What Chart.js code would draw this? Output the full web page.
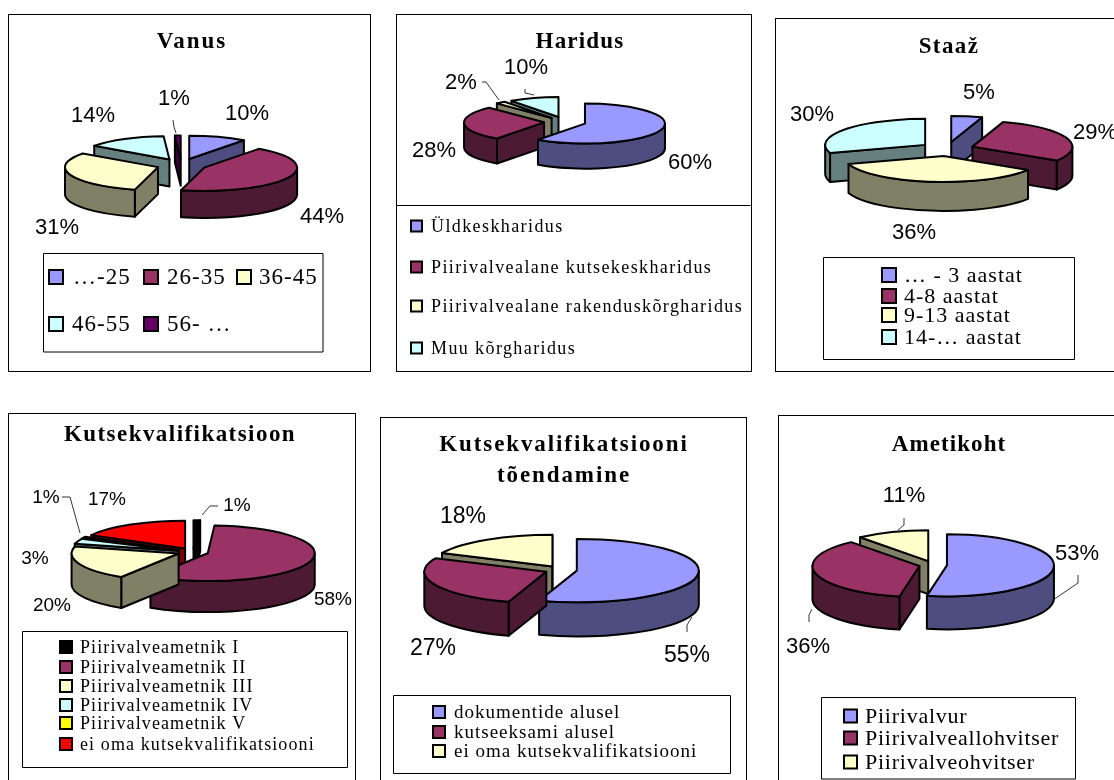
<!DOCTYPE html>
<html><head><meta charset="utf-8">
<style>
html,body{margin:0;padding:0;background:#fff;width:1114px;height:780px;overflow:hidden}
.box{position:absolute;box-sizing:border-box;border:1px solid #000;background:#fff}
canvas{position:absolute;left:-1px;top:-1px;display:block}
</style>
<script src="https://cdn.jsdelivr.net/npm/chart.js@4"></script>
</head><body>
<script>
// ---- data ----
const vanusTitle = 'Vanus';
const vanusCategories = ['…-25','26-35','36-45','46-55','56- …'];
const vanusValues = [10,44,31,14,1];
const haridusTitle = 'Haridus';
const haridusCategories = ['Üldkeskharidus','Piirivalvealane kutsekeskharidus','Piirivalvealane rakenduskõrgharidus','Muu kõrgharidus'];
const haridusValues = [60,28,2,10];
const staazTitle = 'Staaž';
const staazCategories = ['… - 3 aastat','4-8 aastat','9-13 aastat','14-… aastat'];
const staazValues = [5,29,36,30];
const kvalTitle = 'Kutsekvalifikatsioon';
const kvalCategories = ['Piirivalveametnik I','Piirivalveametnik II','Piirivalveametnik III','Piirivalveametnik IV','Piirivalveametnik V','ei oma kutsekvalifikatsiooni'];
const kvalValues = [1,58,20,3,1,17];
const toendTitle = ['Kutsekvalifikatsiooni','tõendamine'];
const toendCategories = ['dokumentide alusel','kutseeksami alusel','ei oma kutsekvalifikatsiooni'];
const toendValues = [55,27,18];
const ametTitle = 'Ametikoht';
const ametCategories = ['Piirivalvur','Piirivalveallohvitser','Piirivalveohvitser'];
const ametValues = [53,36,11];

const BLUE='#9999FF',PLUM='#993366',CREAM='#FFFFCC',AQUA='#CCFFFF',PURPLE='#660066',BLACK='#000000',YELLOW='#FFFF00',RED='#FF0000';
const SIDE={[BLUE]:'#4D4D80',[PLUM]:'#4D1A33',[CREAM]:'#808066',[AQUA]:'#668080',[PURPLE]:'#330033',[BLACK]:'#000000',[YELLOW]:'#808000',[RED]:'#800000'};

// ---- layout (page pixels) ----
const charts=[
 {title:vanusTitle,cats:vanusCategories,vals:vanusValues,colors:[BLUE,PLUM,CREAM,AQUA,PURPLE],
  box:[8,14,363,358],tc:192,ty:42,tfs:23,tls:2,tlh:25,
  pie:{cx:181.5,cy:165,r:93,k:.25,d:25,depth:27},
  lf:22,lpos:[[247,112],[322,215],[57,226],[93,114],[174,97]],
  leaders:[[[173,120],[174,127],[176,133]]],
  lbox:[43.5,253.5,279.5,98.5],lgf:23,lgs:1,sw:14,
  items:[[49,277,73],[144,277,167],[237,277,259],[49,324,72],[144,324,167]]},
 {title:haridusTitle,cats:haridusCategories,vals:haridusValues,colors:[BLUE,PLUM,CREAM,AQUA],
  box:[396,14,356,358],tc:580,ty:42,tfs:23,tls:1.2,tlh:25,
  pie:{cx:565,cy:122,r:80,k:.25,d:21,depth:25},
  lf:22,lpos:[[690,161],[434,149],[461,81],[526,66]],
  leaders:[[[482,82],[486,82],[499,100]],[[525,89],[525,93],[534,95]]],
  lbox:[396.5,205.5,354,0],lgf:18,lgs:1.4,sw:11,
  items:[[411,226,431],[411,267,431],[411,306,431],[411,348,431]]},
 {title:staazTitle,cats:staazCategories,vals:staazValues,colors:[BLUE,PLUM,CREAM,AQUA],
  box:[775,18,345,354],tc:949,ty:47,tfs:23,tls:1.4,tlh:25,
  pie:{cx:947,cy:149,r:100,k:.26,d:27,depth:29},
  lf:22,lpos:[[979,91],[1095,131],[914,231],[812,113]],leaders:[],
  lbox:[823.5,257.5,251,102],lgf:22,lgs:1,sw:14,
  items:[[882,275,904],[882,296,904],[882,315,904],[882,337,904]]},
 {title:kvalTitle,cats:kvalCategories,vals:kvalValues,colors:[BLACK,PLUM,CREAM,AQUA,YELLOW,RED],
  box:[8,413,348,375],tc:180,ty:435,tfs:23,tls:1.45,tlh:25,
  pie:{cx:193,cy:552,r:107,k:.26,d:15.5,depth:31},
  lf:19,lpos:[[237,504],[333,598],[52,604],[35,557],[46,496],[107,498]],
  leaders:[[[202,515],[210,506],[218,506]],[[62,497],[70,497],[80,533]]],
  lbox:[22.5,631.5,325,136],lgf:18,lgs:1.1,sw:12,
  items:[[60,647,80],[60,667,80],[60,686,80],[60,705,80],[60,723,80],[60,744,80]]},
 {title:toendTitle,cats:toendCategories,vals:toendValues,colors:[BLUE,PLUM,CREAM],
  box:[380,417,367,371],tc:564,ty:445,tfs:23,tls:1.9,tlh:31,
  pie:{cx:561,cy:570,r:122,k:.26,d:16,depth:34},
  lf:23,lpos:[[687,654],[433,647],[463,515]],
  leaders:[[[692,617],[687,625],[687,632]]],
  lbox:[393.5,695.5,337,78],lgf:19,lgs:1,sw:12,
  items:[[433,712,454],[433,732,454],[433,751,454]]},
 {title:ametTitle,cats:ametCategories,vals:ametValues,colors:[BLUE,PLUM,CREAM],
  box:[778,415,345,373],tc:949,ty:445,tfs:23,tls:1.1,tlh:25,
  pie:{cx:933,cy:565,r:107,k:.29,d:14,depth:33},
  lf:22,lpos:[[1077,552],[808,645],[904,494]],
  leaders:[[[904,518],[904,525],[898,530]],[[1078,575],[1078,583],[1053,600]],[[809,622],[809,615],[812,609]]],
  lbox:[821.5,697.5,254,81.5],lgf:22,lgs:.75,sw:13,
  items:[[844,716,865],[844,738,865],[844,762,865]]}
];

function wedgeGeom(arc,p){
  const h=(arc.startAngle+arc.endAngle)/2;
  return {px:p.cx+p.d*Math.cos(h),py:p.cy+p.k*p.d*Math.sin(h),h,a0:arc.startAngle,a1:arc.endAngle,R:arc.outerRadius};
}
const pie3d={
 id:'pie3d',
 afterLayout(chart,args,o){
  const p=o.pie,b=o.box,s=o.pie.r;
  chart.chartArea={left:p.cx-b[0]-s,right:p.cx-b[0]+s,top:p.cy-b[1]-s,bottom:p.cy-b[1]+s,width:2*s,height:2*s};
 },
 beforeDraw(chart,args,o){chart.ctx.letterSpacing=o.tls+'px';},
 beforeDatasetDraw(chart,args,o){
  const ctx=chart.ctx,p=o.pie,b=o.box;
  ctx.letterSpacing='0px';
  const arcs=chart.getDatasetMeta(args.index).data;
  const order=arcs.map((a,i)=>i).sort((i,j)=>{
    const f=a=>Math.sin((a.startAngle+a.endAngle)/2);return f(arcs[i])-f(arcs[j]);});
  ctx.save();
  ctx.translate(-b[0],-b[1]);
  ctx.lineJoin='round';
  ctx.lineWidth=2;
  ctx.strokeStyle='#000';
  order.forEach(i=>{
    const arc=arcs[i],g=wedgeGeom(arc,p),col=o.colors[i],dk=SIDE[col],D=p.depth,ry=p.k*g.R;
    const rim=a=>[g.px+g.R*Math.cos(a),g.py+ry*Math.sin(a)];
    ctx.fillStyle=dk;
    const face=a=>{const q=rim(a);ctx.beginPath();ctx.moveTo(g.px,g.py);ctx.lineTo(q[0],q[1]);ctx.lineTo(q[0],q[1]+D);ctx.lineTo(g.px,g.py+D);ctx.closePath();ctx.fill();ctx.stroke();};
    if(Math.cos(g.a0)<0) face(g.a0);
    if(Math.cos(g.a1)>0) face(g.a1);
    const w0=Math.max(g.a0,0),w1=Math.min(g.a1,Math.PI);
    if(w1>w0){
      ctx.beginPath();
      ctx.ellipse(g.px,g.py,g.R,ry,0,w0,w1);
      ctx.ellipse(g.px,g.py+D,g.R,ry,0,w1,w0,true);
      ctx.closePath();ctx.fill();ctx.stroke();
    }
    // top face: the library's own arc, tilted and pulled out of the pie
    ctx.save();
    ctx.translate(g.px,g.py);
    ctx.scale(1,p.k);
    ctx.translate(-(p.cx-b[0]),-(p.cy-b[1]));
    arc.draw(ctx);
    ctx.restore();
    ctx.beginPath();
    ctx.moveTo(g.px,g.py);
    ctx.ellipse(g.px,g.py,g.R,ry,0,g.a0,g.a1);
    ctx.closePath();ctx.stroke();
  });
  ctx.restore();
  return false;
 },
 afterDraw(chart,args,o){
  const ctx=chart.ctx,b=o.box,vals=chart.data.datasets[0].data,labels=chart.data.labels;
  ctx.save();
  ctx.translate(-b[0],-b[1]);
  // data labels and leader lines
  ctx.letterSpacing='0px';
  ctx.fillStyle='#000';ctx.strokeStyle='#000';
  ctx.font=o.lf+'px "Liberation Sans"';ctx.textAlign='center';ctx.textBaseline='middle';
  vals.forEach((v,i)=>ctx.fillText(v+'%',o.lpos[i][0],o.lpos[i][1]+1.5));
  ctx.lineWidth=.8;
  o.leaders.forEach(l=>{ctx.beginPath();l.forEach((q,i)=>i?ctx.lineTo(q[0],q[1]):ctx.moveTo(q[0],q[1]));ctx.stroke();});
  // legend frame
  const L=o.lbox;
  ctx.lineWidth=1;ctx.strokeStyle='#000';
  ctx.beginPath();
  if(L[3]===0){ctx.moveTo(L[0],L[1]);ctx.lineTo(L[0]+L[2],L[1]);}else ctx.rect(L[0],L[1],L[2],L[3]);
  ctx.stroke();
  // legend entries
  ctx.font=o.lgf+'px "Liberation Serif"';ctx.textAlign='left';
  ctx.letterSpacing=o.lgs+'px';
  o.items.forEach((it,i)=>{
    ctx.fillStyle=o.colors[i];
    ctx.lineWidth=2;
    ctx.fillRect(it[0],it[1]-o.sw/2,o.sw,o.sw);
    ctx.strokeRect(it[0],it[1]-o.sw/2,o.sw,o.sw);
    ctx.fillStyle='#000';
    ctx.fillText(labels[i],it[2],it[1]+1);
  });
  ctx.restore();
 }
};

charts.forEach(c=>{
  const [x,y,w,h]=c.box;
  const div=document.createElement('div');
  div.className='box';
  div.style.cssText='left:'+x+'px;top:'+y+'px;width:'+w+'px;height:'+h+'px';
  const cv=document.createElement('canvas');
  cv.width=w;cv.height=h;cv.style.width=w+'px';cv.style.height=h+'px';
  div.appendChild(cv);document.body.appendChild(div);
  const rel=c.tc-x;
  const padL=Math.max(0,2*rel-w),padR=Math.max(0,w-2*rel);
  new Chart(cv.getContext('2d'),{
    type:'pie',
    data:{labels:c.cats,datasets:[{data:c.vals,backgroundColor:c.colors,borderWidth:0,radius:c.pie.r,clip:false}]},
    plugins:[pie3d],
    options:{
      responsive:false,animation:false,events:[],
      layout:{padding:{top:c.ty-y-c.tlh/2,left:padL,right:padR,bottom:0}},
      plugins:{
        legend:{display:false},tooltip:{enabled:false},
        title:{display:true,text:c.title,color:'#000',padding:0,
          font:{family:'"Liberation Serif"',size:c.tfs,weight:'bold',lineHeight:c.tlh/c.tfs}},
        pie3d:{pie:c.pie,box:[x,y],colors:c.colors,lf:c.lf,lpos:c.lpos,leaders:c.leaders,lbox:c.lbox,lgf:c.lgf,lgs:c.lgs,sw:c.sw,items:c.items,tls:c.tls}
      }
    }
  });
});
</script>
</body></html>
